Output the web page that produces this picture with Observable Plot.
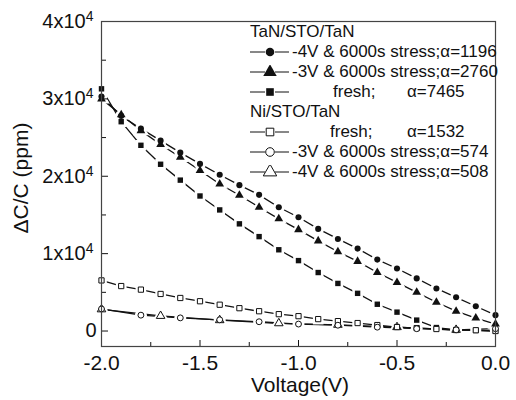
<!DOCTYPE html>
<html><head><meta charset="utf-8">
<script src="https://cdn.jsdelivr.net/npm/d3@7"></script>
<script src="https://cdn.jsdelivr.net/npm/@observablehq/plot@0.6"></script>
<style>
body{margin:0;background:#fff;font-family:"Liberation Sans",Arial,sans-serif;}
#wrap{position:relative;width:516px;height:400px;overflow:hidden;}
.t{position:absolute;white-space:pre;line-height:18px;font-size:17px;color:#111;}
.sym{position:absolute;}
</style></head><body><div id="wrap"></div>
<script>
// ---- data ----
const voltage = [-2.0,-1.9,-1.8,-1.7,-1.6,-1.5,-1.4,-1.3,-1.2,-1.1,-1.0,-0.9,-0.8,-0.7,-0.6,-0.5,-0.4,-0.3,-0.2,-0.1,0.0];
const tanStress4V = [30300,27800,26150,24600,23050,21600,20200,18850,17600,16000,14700,13200,11900,10650,9230,8080,6800,5500,4360,3200,2050];
const tanStress3V = [30000,27950,25900,24100,22450,20750,19000,17550,16000,14500,13100,11650,10250,9000,7560,6280,5000,3720,2560,1670,900];
const tanFresh    = [31300,27050,24000,21550,19500,17450,15650,13850,12200,10500,9100,7560,6150,4870,3460,2440,1410,450,150,80,0];
const niFresh     = [6540,5810,5350,4790,4270,3850,3400,2950,2560,2180,1920,1540,1280,1030,770,510,380,260,130,100,0];
const niStress3VVoltage = [-2.0,-1.8,-1.6,-1.4,-1.2,-1.0,-0.8,-0.6,-0.4,-0.2,0.0];
const niStress3V        = [2850,2050,1700,1450,1200,900,750,500,300,150,300];
const niStress4VVoltage = [-2.0,-1.7,-1.4,-1.1,-0.8,-0.5,-0.2];
const niStress4V        = [2800,1950,1400,1000,800,500,150];

const xTicks = [-2.0,-1.5,-1.0,-0.5,0.0];
const xTickLabels = ["-2.0","-1.5","-1.0","-0.5","0.0"];
const xMinorTicks = [-1.75,-1.25,-0.75,-0.25];
const yTicks = [0,10000,20000,30000,40000];
const yTickLabels = ["0","1x10","2x10","3x10","4x10"];
const yTickExponents = ["","4","4","4","4"];
const yMinorTicks = [5000,15000,25000,35000];
const xTitle = "Voltage(V)";
const yTitle = "ΔC/C (ppm)";

const seriesNames = ["TaN -4V","TaN -3V","TaN fresh","Ni fresh","Ni -3V","Ni -4V"];
const seriesSymbols = ["circle","triangle","square","square","circle","triangle"];
const seriesFilled = [true,true,true,false,false,false];
const legendHeaders = ["TaN/STO/TaN","Ni/STO/TaN"];
const legendLabels = [
  ["-4V & 6000s stress;α=1196"],
  ["-3V & 6000s stress;α=2760"],
  ["fresh;","α=7465"],
  ["fresh;","α=1532"],
  ["-3V & 6000s stress;α=574"],
  ["-4V & 6000s stress;α=508"]
];

// ---- build table ----
const seriesX = [voltage,voltage,voltage,voltage,niStress3VVoltage,niStress4VVoltage];
const seriesY = [tanStress4V,tanStress3V,tanFresh,niFresh,niStress3V,niStress4V];
const rows = [];
seriesNames.forEach((name,s)=>{
  seriesX[s].forEach((v,i)=>rows.push({series:name, s, v, y:seriesY[s][i], symbol:seriesSymbols[s], filled:seriesFilled[s]}));
});

const symScale = {domain: seriesNames, range: seriesSymbols};

const chart = Plot.plot({
  width:516, height:400,
  marginLeft:101, marginRight:21, marginTop:21, marginBottom:54,
  style:{fontFamily:"'Liberation Sans', Arial, sans-serif", fontSize:"21px", background:"white", color:"#111"},
  x:{domain:[-2,0]},
  y:{domain:[-2000,40000]},
  symbol: symScale,
  marks:[
    Plot.line(rows,{x:"v", y:"y", z:"series", stroke:"#111", strokeWidth:1.3}),
    Plot.dot(rows,{x:"v", y:"y", symbol:"series", r:6, fill:"white", stroke:"none"}),
    Plot.dot(rows.filter(d=>d.filled),{x:"v", y:"y", symbol:"series", r:d=>d.symbol==="triangle"?5.2:4.6, fill:"#111", stroke:"none"}),
    Plot.dot(rows.filter(d=>!d.filled),{x:"v", y:"y", symbol:"series", r:d=>d.symbol==="triangle"?5:4.3, fill:"white", stroke:"#111", strokeWidth:1}),
    Plot.axisX({ticks:xTicks, tickSize:-6, tickPadding:15, tickFormat:(d)=>xTickLabels[xTicks.indexOf(d)], label:null, fontSize:21}),
    Plot.axisX({ticks:xMinorTicks, tickSize:-4, tickFormat:()=>"", label:null}),
    Plot.axisY({ticks:yTicks, tickSize:-7, tickPadding:12, tickFormat:(d)=>yTickLabels[yTicks.indexOf(d)], label:null, fontSize:20}),
    Plot.axisY({ticks:yMinorTicks, tickSize:-5, tickFormat:()=>"", label:null}),
    Plot.frame({stroke:"#444", strokeWidth:1.2})
  ]
});

// superscripts on y tick labels
d3.select(chart).selectAll('g[aria-label="y-axis tick label"] text').each(function(){
  const txt = this.textContent;
  const i = yTickLabels.indexOf(txt);
  if (i >= 0 && yTickExponents[i]) {
    const tr = this.getAttribute("transform") || "";
    this.setAttribute("transform", "translate(-3,0) " + tr);
    d3.select(this).append("tspan").attr("dy","-0.5em").attr("font-size","14px").text(yTickExponents[i]);
  }
});

const wrap = document.getElementById("wrap");
wrap.appendChild(chart);

// axis titles
const xt = document.createElement("div");
xt.className="t"; xt.style.fontSize="21px"; xt.textContent=xTitle;
xt.style.left="0px"; xt.style.width="600px"; xt.style.textAlign="center"; xt.style.top="376px";
wrap.appendChild(xt);
const yt = document.createElement("div");
yt.className="t"; yt.style.fontSize="21px"; yt.textContent=yTitle;
yt.style.left="21px"; yt.style.top="178px"; yt.style.transform="translate(-50%,-50%) rotate(-90deg)";
wrap.appendChild(yt);

// legend
const headerY = [32,112];
const rowY = [52,72,92,132,152,172];
legendHeaders.forEach((h,i)=>{
  const d=document.createElement("div"); d.className="t"; d.textContent=h;
  d.style.left="250px"; d.style.top=(headerY[i]-9)+"px"; wrap.appendChild(d);
});
legendLabels.forEach((parts,i)=>{
  const cy=rowY[i];
  const svg=d3.create("svg").attr("width",42).attr("height",14).attr("class","sym")
    .style("left","249px").style("top",(cy-7)+"px");
  svg.append("line").attr("x1",1).attr("x2",16).attr("y1",7).attr("y2",7).attr("stroke","#111");
  svg.append("line").attr("x1",26).attr("x2",40).attr("y1",7).attr("y2",7).attr("stroke","#111");
  const size = seriesSymbols[i]==="triangle" ? Math.PI*5*5 : Math.PI*4.3*4.3;
  const sym = seriesSymbols[i]==="circle"?d3.symbolCircle:seriesSymbols[i]==="square"?d3.symbolSquare:d3.symbolTriangle;
  svg.append("path").attr("transform","translate(21,7)").attr("d",d3.symbol(sym,size)())
    .attr("fill",seriesFilled[i]?"#111":"white").attr("stroke",seriesFilled[i]?"none":"#111");
  wrap.appendChild(svg.node());
  if (parts.length===1){
    const d=document.createElement("div"); d.className="t"; d.textContent=parts[0];
    d.style.left="292px"; d.style.top=(cy-9)+"px"; wrap.appendChild(d);
  } else {
    const a=document.createElement("div"); a.className="t"; a.textContent=parts[0];
    a.style.left=(i===2?333:330)+"px"; a.style.top=(cy-9)+"px"; wrap.appendChild(a);
    const b=document.createElement("div"); b.className="t"; b.textContent=parts[1];
    b.style.left="407px"; b.style.top=(cy-9)+"px"; wrap.appendChild(b);
  }
});
</script></body></html>
